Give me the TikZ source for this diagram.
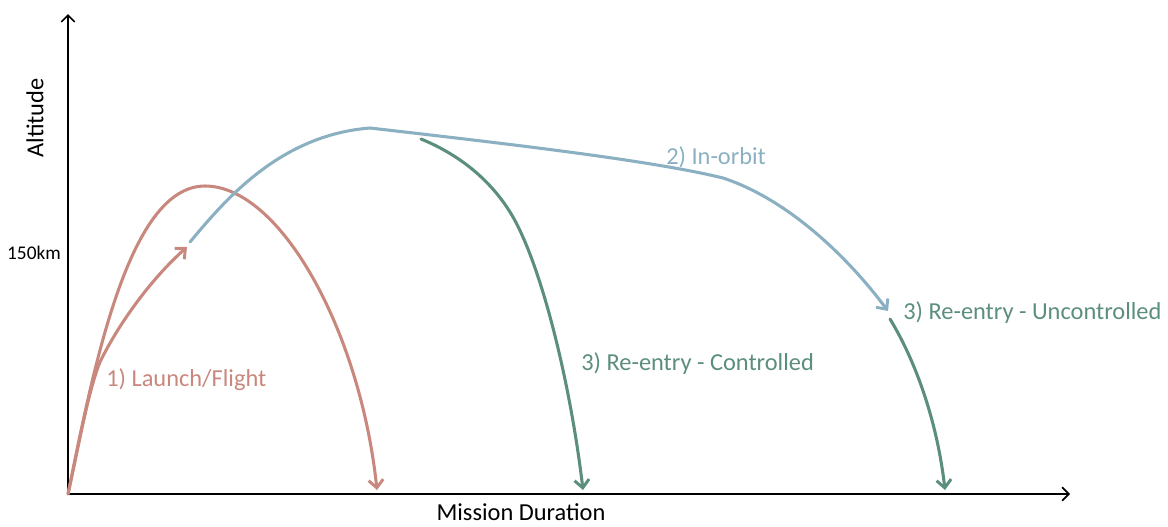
\documentclass[tikz,border=0pt]{standalone}
\usepackage{fontspec}
\setmainfont{Carlito}
\usetikzlibrary{arrows.meta}
\definecolor{launchc}{RGB}{201,136,125}
\definecolor{orbitc}{RGB}{138,176,194}
\definecolor{reentc}{RGB}{92,142,124}
\tikzset{
  axis/.style={line width=1.3pt, black, -{Straight Barb[length=5pt,width=10pt,line width=1.3pt]}},
  traj/.style={line width=2.3pt, line cap=round, line join=round},
  tip/.style={-{Straight Barb[length=6pt,width=11pt,line width=2.2pt]}},
  lbl/.style={inner sep=0pt, font=\fontsize{18.3}{20}\selectfont},
}
\begin{document}
\begin{tikzpicture}[x=0.75pt,y=-0.75pt]
\useasboundingbox (0,0) rectangle (1168,526);
% axes
\coordinate (O) at (68,494);
\coordinate (ytop) at (68,14);
\coordinate (xend) at (1070,494);
\draw[axis] (O) -- (ytop);
\draw[axis] (O) -- (xend);
\node[lbl, rotate=90] (alt) at (35,118) {Altitude};
\node[lbl, font=\fontsize{14.5}{16}\selectfont] (km) at (34,253) {150km};
\node[lbl] (md) at (521,512) {Mission Duration};
% launch / flight
\coordinate (lpeak) at (205,186);
\coordinate (lland) at (377,490);
\coordinate (lsplit) at (100,362);
\coordinate (lend) at (187,247);
\draw[traj, tip, launchc] (O) .. controls (95,360) and (130,186) .. (lpeak)
  .. controls (280,186) and (360,330) .. (lland);
\draw[traj, tip, launchc] (O) .. controls (80,440) and (88,392) .. (lsplit)
  .. controls (118,325) and (150,280) .. (lend);
\node[lbl, launchc, anchor=west] (l1) at (106,380) {1) Launch/Flight};
% in orbit
\coordinate (ostart) at (190,242);
\coordinate (opeak) at (370,128);
\coordinate (obend) at (723,178);
\coordinate (oend) at (888,311);
\draw[traj, tip, orbitc] (ostart) .. controls (225,200) and (280,135) .. (opeak)
  .. controls (500,143) and (650,160) .. (obend)
  .. controls (790,200) and (850,260) .. (oend);
\node[lbl, orbitc, anchor=west] (l2) at (666,157) {2) In-orbit};
% controlled re-entry
\coordinate (cstart) at (421,139);
\coordinate (cmid) at (510,212);
\coordinate (cend) at (583,490);
\draw[traj, tip, reentc] (cstart) .. controls (460,155) and (490,180) .. (cmid)
  .. controls (540,260) and (570,380) .. (cend);
\node[lbl, reentc, anchor=west] (l3) at (581,364) {3) Re-entry - Controlled};
% uncontrolled re-entry
\coordinate (ustart) at (890,319);
\coordinate (uend) at (945,490);
\draw[traj, tip, reentc] (ustart) .. controls (915,360) and (937,420) .. (uend);
\node[lbl, reentc, anchor=west] (l4) at (903,313) {3) Re-entry - Uncontrolled};
\end{tikzpicture}
\end{document}
